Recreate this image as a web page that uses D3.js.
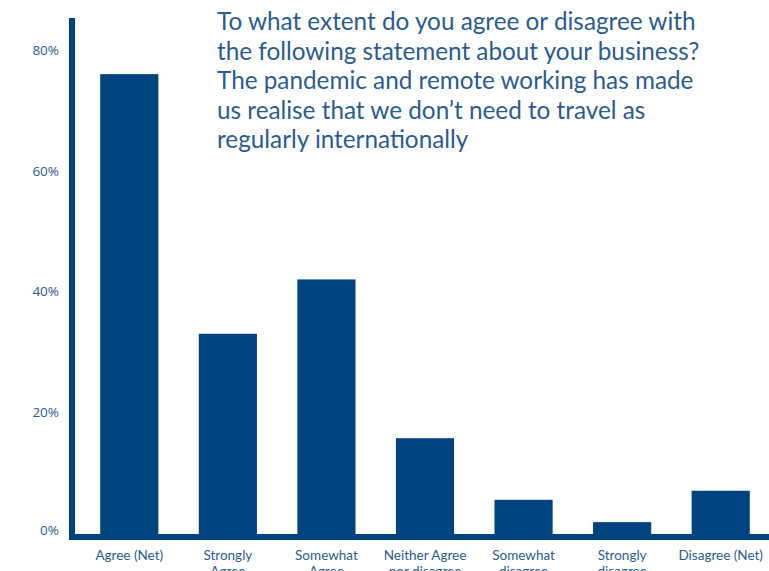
<!DOCTYPE html>
<html><head><meta charset="utf-8">
<script src="https://cdn.jsdelivr.net/npm/d3@7"></script>
<style>body{margin:0;background:#fff}svg{display:block}</style>
</head><body>
<script>
const categories = ["Agree (Net)", "Strongly Agree", "Somewhat Agree", "Neither Agree nor disagree", "Somewhat disagree", "Strongly disagree", "Disagree (Net)"];
const values = [76, 33, 42, 15.7, 5.5, 1.8, 7];
const tickValues = [0, 20, 40, 60, 80];
const titleLines = ["To what extent do you agree or disagree with", "the following statement about your business?", "The pandemic and remote working has made", "us realise that we don\u2019t need to travel as", "regularly internationally"];

const W = 769, H = 571;
const barColor = "#00447f", textColor = "#2b5c91";
const font = "Lato, 'Open Sans', sans-serif";
const svg = d3.select("body").append("svg").attr("width", W).attr("height", H);

const x = d3.scaleBand().domain(categories).range([80, 770]).paddingInner(0.41).paddingOuter(0.205);
const y = d3.scaleLinear().domain([0, 80]).range([533, 50]);

svg.selectAll("rect.bar").data(values).join("rect").attr("class", "bar")
  .attr("x", (d, i) => x(categories[i])).attr("width", x.bandwidth())
  .attr("y", d => y(d)).attr("height", d => y(0) - y(d) + 2).attr("fill", barColor);

// y axis line
svg.append("rect").attr("x", 69).attr("y", 18).attr("width", 6).attr("height", 522).attr("fill", barColor);
// baseline
svg.append("rect").attr("x", 69).attr("y", y(0) + 1).attr("width", W - 69).attr("height", 6).attr("fill", barColor);

const yAxis = d3.axisLeft(y).tickValues(tickValues).tickFormat(d => d + "%").tickSize(0).tickPadding(0);
const ya = svg.append("g").attr("transform", "translate(59,0)").call(yAxis);
ya.select(".domain").remove();
ya.selectAll("text").attr("fill", textColor).style("font-family", "'Open Sans', sans-serif").style("font-size", "13.5px")
  .attr("dy", d => d === 0 ? "0.1em" : "0.32em");

const xAxis = d3.axisBottom(x).tickSize(0).tickPadding(0);
const xa = svg.append("g").attr("transform", `translate(0,${y(0) + 7})`).call(xAxis);
xa.select(".domain").remove();
xa.selectAll("text").each(function(d) {
  const t = d3.select(this).text("");
  let lines;
  if (d.endsWith("(Net)")) lines = [d];
  else if (d.startsWith("Neither")) lines = ["Neither Agree", "nor disagree"];
  else lines = d.split(" ");
  lines.forEach((l, i) => t.append("tspan").attr("x", 0).attr("y", 19.5 + i * 16).text(l));
}).attr("fill", textColor).style("font-family", font).style("font-size", "13.5px").attr("dy", null);

const title = svg.append("text").attr("x", 217).attr("y", 30).attr("fill", textColor)
  .style("font-family", font).style("font-size", "24.3px").style("font-weight", 400);
titleLines.forEach((l, i) => title.append("tspan").attr("x", 217).attr("y", 30 + i * 29.5).text(l));
</script>
</body></html>
